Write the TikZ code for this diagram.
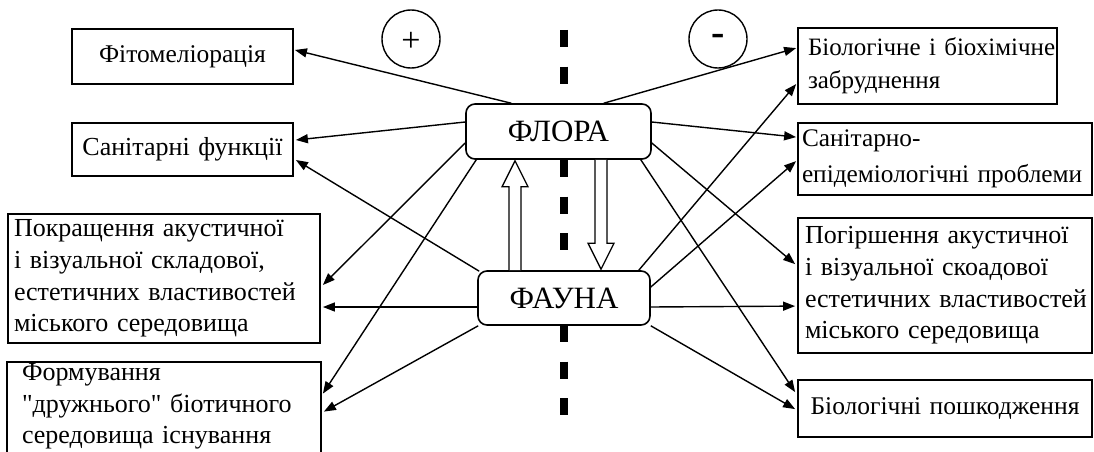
\documentclass[tikz,border=0pt]{standalone}
\usepackage{fontspec}
\setmainfont{Liberation Serif}[Ligatures=TeXOff]
\usetikzlibrary{arrows.meta,calc}
\begin{document}
\begin{tikzpicture}[x=1pt,y=-1pt,
  every node/.style={font=\fontsize{26}{31.7}\selectfont},
  box/.style={draw, line width=1.8pt, fill=white, inner ysep=0pt, align=left},
  cbox/.style={draw, line width=1.6pt, fill=white, rounded corners=9pt, inner sep=0pt, font=\fontsize{31}{32}\selectfont},
  con/.style={line width=1.4pt, -{Triangle[length=12pt,width=9pt]}},
  hollow/.style={draw, line width=1.3pt, fill=white},
  divider/.style={line width=8.5pt, dash pattern=on 17pt off 19.5pt},
  sign/.style={draw, circle, line width=1.4pt, minimum size=58pt, inner sep=0pt}
]
\clip (0,0) rectangle (1094,452);
% divider
\draw[divider] (564,30) -- (564,85);
\draw[divider] (564,160) -- (564,251);
\draw[divider] (564,325) -- (564,418);
% sign circles
\node[sign, label={[font=\fontsize{34}{34}\selectfont, yshift=-3pt]center:+}] (plus) at (411,39) {};
\node[sign, label={[font=\fontsize{40}{40}\selectfont\bfseries, yshift=-1pt]center:-}] (minus) at (718,39) {};
% center nodes
\node[cbox, minimum width=185pt, minimum height=55pt] (flora) at (558.5,131.5) {ФЛОРА};
\node[cbox, minimum width=172pt, minimum height=54pt] (fauna) at (564,298) {ФАУНА};
% left boxes
\node[box, inner xsep=6pt, text width=209pt, minimum height=55pt, align=center, font=\fontsize{25.5}{31.7}\selectfont] (fito) at (182.5,56.5) {Фітомеліорація};
\node[box, inner xsep=4pt, text width=213pt, minimum height=53pt, align=center] (san) at (182.5,149.5) {Санітарні~функції};
\node[box, inner xsep=6pt, text width=300pt, minimum height=129pt] (pokr) at (164,278.5)
  {Покращення~акустичної\\ і~візуальної~складової,\\ естетичних~властивостей\\ міського~середовища};
\node[box, draw=none, inner xsep=14pt, text width=284pt, minimum height=88pt] (form) at (164,406.5)
  {Формування\\ "дружнього"~біотичного\\ середовища~існування};
\draw[line width=1.8pt] ($(form.south west)+(0,20)$) -- (form.north west) -- (form.north east) -- ($(form.south east)+(0,20)$);
% right boxes
\node[box, inner xsep=10pt, text width=239pt, minimum height=76pt, font=\fontsize{25}{32.5}\selectfont] (bio) at (927.5,66)
  {Біологічне~і~біохімічне\\ забруднення};
\node[box, inner xsep=4pt, text width=286pt, minimum height=72pt, font=\fontsize{25.3}{36}\selectfont] (sanepid) at (945,159)
  {Санітарно-\\ епідеміологічні~проблеми};
\node[box, inner xsep=7pt, text width=280pt, minimum height=135pt] (pogir) at (945,285.5)
  {Погіршення~акустичної\\ і~візуальної~скоадової\\ естетичних~властивостей\\ міського~середовища};
\node[box, inner xsep=6pt, text width=282pt, minimum height=57pt, align=center, font=\fontsize{25.5}{31.7}\selectfont] (biopos) at (945,408.5)
  {Біологічні~пошкодження};
% connectors left
\draw[con] ($(flora.north west)+(46,0)$) -- ($(fito.east)+(1,-6.5)$);
\draw[con] ($(flora.west)+(0,-9.5)$) -- ($(san.east)+(2,-9.5)$);
\draw[con] ($(fauna.north west)+(2,1)$) -- ($(san.east)+(2,10.5)$);
\draw[con] ($(flora.west)+(0,11.5)$) -- ($(pokr.east)+(2,6.5)$);
\draw[con] ($(fauna.west)+(0,9)$) -- ($(pokr.east)+(2,28.5)$);
\draw[con] ($(flora.south west)+(11,0)$) -- ($(form.north east)+(2,32)$);
\draw[con] ($(fauna.south west)+(1,0)$) -- ($(form.north east)+(3,50)$);
% connectors right
\draw[con] ($(flora.north east)+(-48,0)$) -- ($(bio.north west)+(-1,21)$);
\draw[con] ($(fauna.north east)+(-12,0)$) -- ($(bio.north west)+(-1,57)$);
\draw[con] ($(flora.east)+(0,-9.5)$) -- ($(sanepid.north west)+(-1,15)$);
\draw[con] ($(fauna.east)+(0,-11)$) -- ($(sanepid.north west)+(-1,39)$);
\draw[con] ($(flora.east)+(0,11.5)$) -- ($(pogir.north west)+(-2,47)$);
\draw[con] ($(fauna.east)+(0,9)$) -- ($(pogir.north west)+(-2,89)$);
\draw[con] ($(flora.south east)+(-11,0)$) -- ($(biopos.north west)+(-2,13)$);
\draw[con] (fauna.south east) -- ($(biopos.north west)+(-2,30)$);
% hollow arrows between FLORA and FAUNA
\coordinate (ux) at (515,0);
\coordinate (dx) at (601,0);
\draw[hollow] ($(ux|-fauna.north)+(-6,0)$) -- ($(ux|-flora.south)+(-6,27)$) -- ++(-7,0)
  -- ($(ux|-flora.south)+(0,1)$) -- ($(ux|-flora.south)+(13,27)$) -- ++(-7,0)
  -- ($(ux|-fauna.north)+(6,0)$);
\draw[hollow] ($(dx|-flora.south)+(-6,0)$) -- ($(dx|-fauna.north)+(-6,-27)$) -- ++(-7,0)
  -- ($(dx|-fauna.north)+(0,-1)$) -- ($(dx|-fauna.north)+(13,-27)$) -- ++(-7,0)
  -- ($(dx|-flora.south)+(6,0)$);
\end{tikzpicture}
\end{document}
